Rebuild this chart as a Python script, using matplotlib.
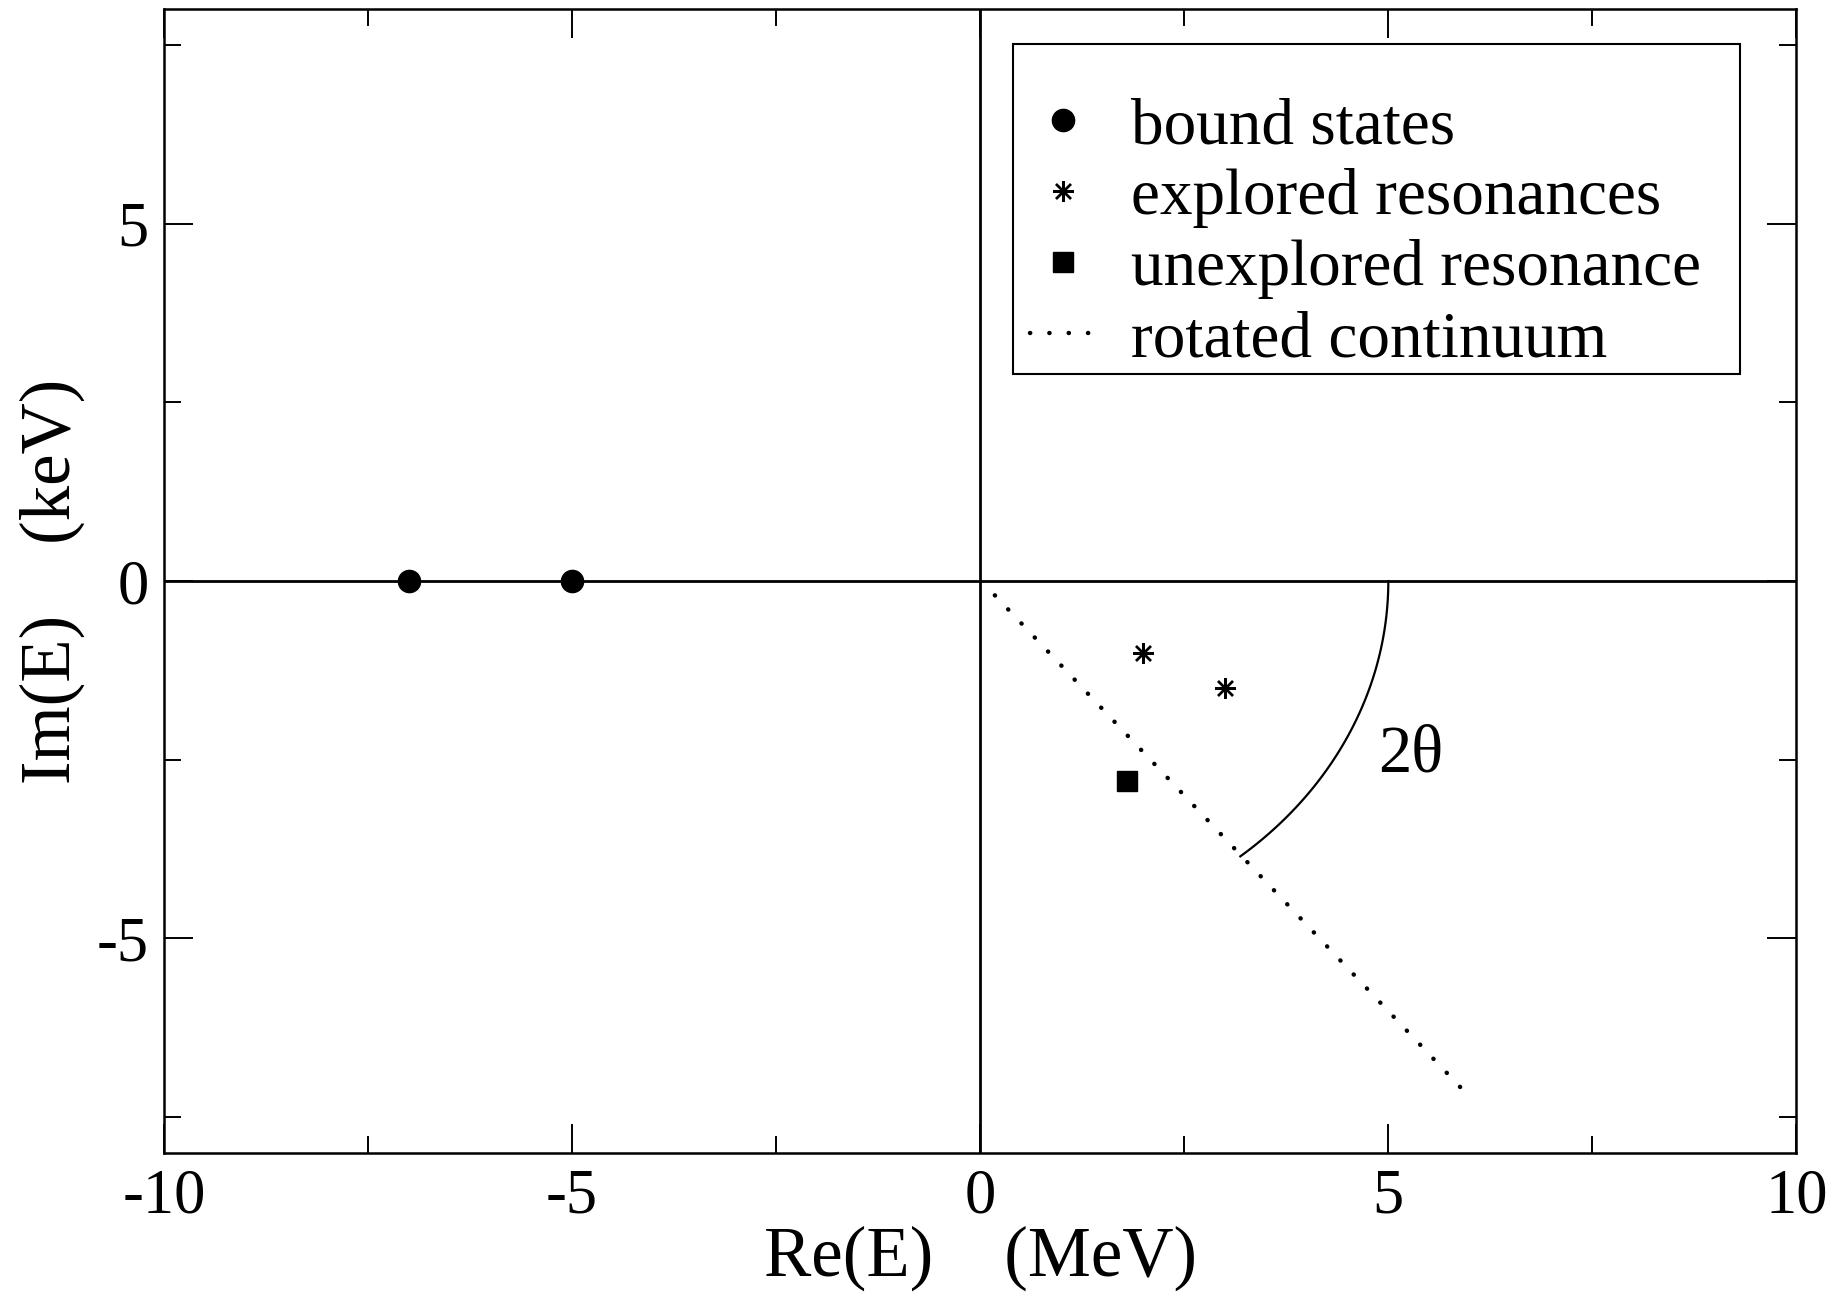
import numpy as np
import matplotlib
matplotlib.use("Agg")
import matplotlib.pyplot as plt
from matplotlib.patches import Rectangle
from matplotlib.ticker import MultipleLocator

plt.rcParams['font.family'] = ['Liberation Serif', 'DejaVu Serif']
plt.rcParams['axes.unicode_minus'] = False

# valeurs
bound_re = [-7.0, -5.0]
bound_im = [0.0, 0.0]
explored_re = [2.0, 3.0]
explored_im = [-1.0, -1.5]
unexplored_re = [1.8]
unexplored_im = [-2.8]
continuum_re = [0.18, 5.88]
continuum_im = [-0.2, -7.08]
arc_radius = 5.0
arc_angle_end = -50.4  # degres, angle de la droite du continuum

fig = plt.figure(figsize=(18.35, 12.99), dpi=100)
ax = fig.add_axes([0.0893, 0.1126, 0.8897, 0.8802])

# axes de reference Re=0 et Im=0
ax.axhline(0, color='black', lw=2.0, zorder=1)
ax.axvline(0, color='black', lw=2.0, zorder=1)

ax.plot(bound_re, bound_im, color='black', ms=16, ls='none', marker='o',
        label='bound states', zorder=3)
ax.plot(explored_re, explored_im, color='black', ms=15, ls='none',
        marker=(8, 2, 0), mew=1.7, label='explored resonances', zorder=3)
ax.plot(unexplored_re, unexplored_im, color='black', ms=14, ls='none',
        marker='s', label='unexplored resonance', zorder=3)
ax.plot(continuum_re, continuum_im, color='black', lw=3.2,
        linestyle=(0, (0.05, 4.3)), dash_capstyle='round',
        label='rotated continuum', zorder=2)

# arc de l'angle 2 theta
phi = np.radians(np.linspace(0, arc_angle_end, 100))
ax.plot(arc_radius * np.cos(phi), arc_radius * np.sin(phi), color='black', lw=1.6)
ax.text(5.28, -2.43, '2θ', fontsize=48, ha='center', va='center')

ax.set_xlim(-10, 10)
ax.set_ylim(-8, 8)
ax.xaxis.set_major_locator(MultipleLocator(5))
ax.xaxis.set_minor_locator(MultipleLocator(2.5))
ax.yaxis.set_major_locator(MultipleLocator(5))
ax.yaxis.set_minor_locator(MultipleLocator(2.5))
ax.tick_params(which='both', direction='in', top=True, right=True,
               labelsize=45, width=1.4, pad=11)
ax.tick_params(which='major', length=21)
ax.tick_params(which='minor', length=12)
for s in ax.spines.values():
    s.set_linewidth(1.8)

ax.set_xlabel('Re(E)    (MeV)', fontsize=51, labelpad=0)
ax.set_ylabel('Im(E)    (keV)', fontsize=51, labelpad=8)

# legende sans cadre + cadre dessine a part
leg = ax.legend(loc='upper left', bbox_to_anchor=(0.5305, 0.923),
                fontsize=47, frameon=False, borderpad=0,
                labelspacing=0.17, handlelength=1.0,
                handletextpad=0.55, borderaxespad=0)
ax.add_patch(Rectangle((0.520, 0.6807), 0.9656 - 0.520, 0.9693 - 0.6807,
                       transform=ax.transAxes, fill=False, edgecolor='black',
                       lw=1.5, zorder=4))

fig.savefig('out.png', dpi=100)
